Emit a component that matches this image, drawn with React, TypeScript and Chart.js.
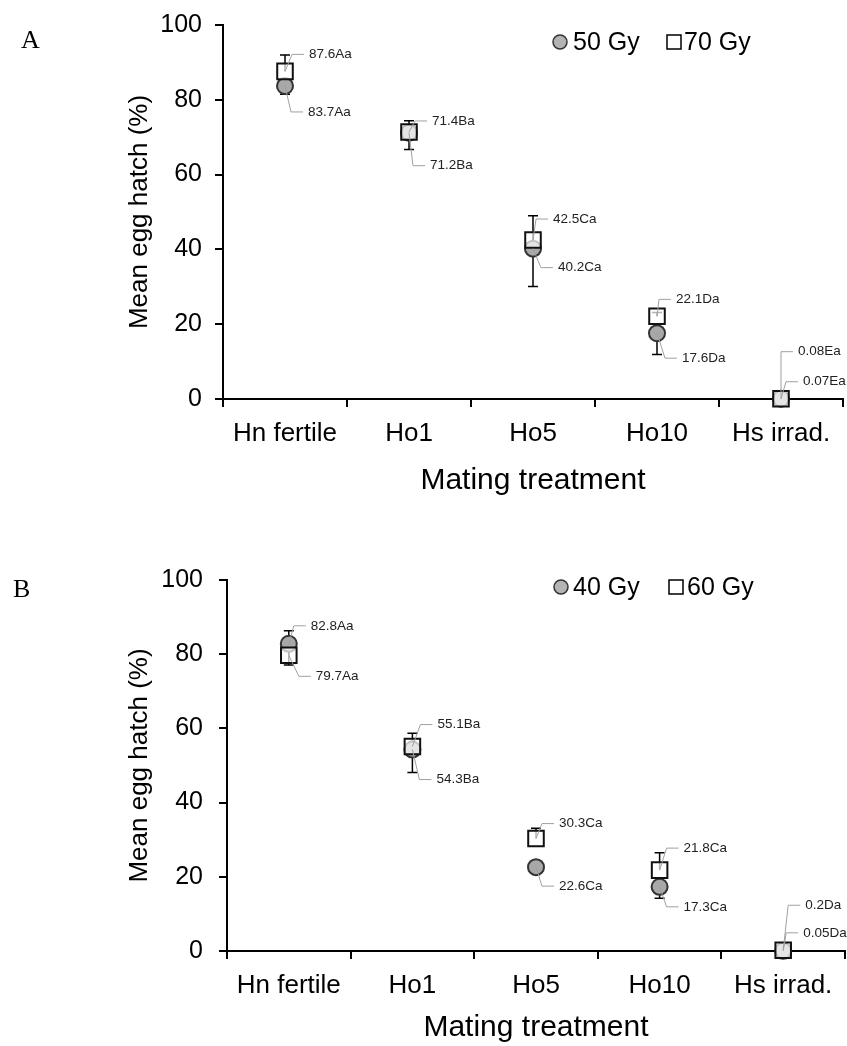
import React, { useEffect, useRef } from 'react';
import { Chart, registerables } from 'chart.js';

Chart.register(...registerables);

// ---------- data ----------
const categories = ['Hn fertile', 'Ho1', 'Ho5', 'Ho10', 'Hs irrad.'];
const yTicks = [0, 20, 40, 60, 80, 100];

// Panel A (50 Gy circle, 70 Gy square)
const a50 = [83.7, 71.2, 40.2, 17.6, 0.07];
const a70 = [87.6, 71.4, 42.5, 22.1, 0.08];
const a50ErrMinus = [2.2, 4.5, 10.1, 5.7, 0];
const a70ErrPlus = [4.4, 3.0, 6.5, 1.0, 0];
const a50Letters = ['Aa', 'Ba', 'Ca', 'Da', 'Ea'];
const a70Letters = ['Aa', 'Ba', 'Ca', 'Da', 'Ea'];

// Panel B (40 Gy circle, 60 Gy square)
const b40 = [82.8, 54.3, 22.6, 17.3, 0.05];
const b60 = [79.7, 55.1, 30.3, 21.8, 0.2];
const b40ErrMinus = [5.7, 6.2, 0.5, 3.1, 0];
const b60ErrPlus = [6.6, 3.6, 2.8, 4.7, 0];
const b40Letters = ['Aa', 'Ba', 'Ca', 'Ca', 'Da'];
const b60Letters = ['Aa', 'Ba', 'Ca', 'Ca', 'Da'];

// label placement offsets (px from marker centre to text left / middle)
const aOff50 = [[23, 26], [21, 33], [25, 19], [25, 25], [22, -17]];
const aOff70 = [[24, -17], [23, -11], [20, -21], [19, -17], [17, -47]];
const bOff40 = [[22, -18], [24, 30], [23, 19], [24, 20], [20, -18]];
const bOff60 = [[27, 21], [25, -22], [23, -15], [24, -22], [22, -45]];

const SANS = '"Liberation Sans", Arial, sans-serif';
const SERIF = '"Liberation Serif", "Times New Roman", serif';
const W = 847;
const H = 523;

type Panel = {
  letter: string;
  letterX: number;
  letterY: number;
  circle: number[];
  square: number[];
  circleErr: number[];
  squareErr: number[];
  circleLetters: string[];
  squareLetters: string[];
  circleOff: number[][];
  squareOff: number[][];
  circleName: string;
  squareName: string;
  left: number;
  right: number;
  top: number;
  bottom: number;
  yTickPad: number;
  xTickPad: number;
  xTitlePadBottom: number;
  legY: number;
  legCircleX: number;
  legCircleTextX: number;
  legSquareX: number;
  legSquareTextX: number;
};

const panels: Panel[] = [
  {
    letter: 'A', letterX: 21, letterY: 48,
    circle: a50, square: a70, circleErr: a50ErrMinus, squareErr: a70ErrPlus,
    circleLetters: a50Letters, squareLetters: a70Letters,
    circleOff: aOff50, squareOff: aOff70,
    circleName: '50 Gy', squareName: '70 Gy',
    left: 223, right: 843, top: 25, bottom: 399,
    yTickPad: 13, xTickPad: 11, xTitlePadBottom: 24,
    legY: 42, legCircleX: 560, legCircleTextX: 573, legSquareX: 674, legSquareTextX: 684,
  },
  {
    letter: 'B', letterX: 13, letterY: 74,
    circle: b40, square: b60, circleErr: b40ErrMinus, squareErr: b60ErrPlus,
    circleLetters: b40Letters, squareLetters: b60Letters,
    circleOff: bOff40, squareOff: bOff60,
    circleName: '40 Gy', squareName: '60 Gy',
    left: 227, right: 845, top: 57, bottom: 428,
    yTickPad: 16, xTickPad: 11, xTitlePadBottom: 0,
    legY: 64, legCircleX: 561, legCircleTextX: 573, legSquareX: 676, legSquareTextX: 687,
  },
];

function makePlugin(p: Panel) {
  return {
    id: 'decor' + p.letter,
    beforeDatasetsDraw(chart: any) {
      const ctx = chart.ctx;
      const xs = chart.scales.x;
      const ys = chart.scales.y;
      ctx.save();
      ctx.strokeStyle = '#000';
      ctx.lineWidth = 1.5;
      const bar = (px: number, v0: number, v1: number) => {
        const y0 = ys.getPixelForValue(v0);
        const y1 = ys.getPixelForValue(v1);
        ctx.beginPath();
        ctx.moveTo(px, y0);
        ctx.lineTo(px, y1);
        ctx.moveTo(px - 5, y1);
        ctx.lineTo(px + 5, y1);
        ctx.stroke();
      };
      categories.forEach((_, i) => {
        const px = xs.getPixelForValue(i);
        if (p.squareErr[i] > 0) bar(px, p.square[i], p.square[i] + p.squareErr[i]);
        if (p.circleErr[i] > 0) bar(px, p.circle[i], p.circle[i] - p.circleErr[i]);
      });
      ctx.restore();
    },
    afterDatasetsDraw(chart: any) {
      const ctx = chart.ctx;
      const xs = chart.scales.x;
      const ys = chart.scales.y;
      ctx.save();
      // data labels with leader lines
      const label = (px: number, v: number, txt: string, off: number[]) => {
        const py = ys.getPixelForValue(v);
        const tx = px + off[0];
        const ty = py + off[1];
        ctx.strokeStyle = '#a0a0a0';
        ctx.lineWidth = 1;
        ctx.beginPath();
        ctx.moveTo(px, py);
        ctx.lineTo(tx - 17, ty);
        ctx.lineTo(tx - 5, ty);
        ctx.stroke();
        ctx.fillStyle = '#222';
        ctx.font = '13.5px ' + SANS;
        ctx.textAlign = 'left';
        ctx.textBaseline = 'middle';
        ctx.fillText(txt, tx, ty);
      };
      categories.forEach((_, i) => {
        const px = xs.getPixelForValue(i);
        label(px, p.square[i], String(p.square[i]) + p.squareLetters[i], p.squareOff[i]);
        label(px, p.circle[i], String(p.circle[i]) + p.circleLetters[i], p.circleOff[i]);
      });
      // legend
      ctx.font = '25px ' + SANS;
      ctx.textAlign = 'left';
      ctx.textBaseline = 'middle';
      ctx.beginPath();
      ctx.arc(p.legCircleX, p.legY, 7, 0, Math.PI * 2);
      ctx.fillStyle = '#b4b4b4';
      ctx.fill();
      ctx.strokeStyle = '#333';
      ctx.lineWidth = 1.5;
      ctx.stroke();
      ctx.fillStyle = '#000';
      ctx.fillText(p.circleName, p.legCircleTextX, p.legY + 1);
      ctx.fillStyle = '#fff';
      ctx.fillRect(p.legSquareX - 7, p.legY - 7, 14, 14);
      ctx.strokeStyle = '#000';
      ctx.strokeRect(p.legSquareX - 7, p.legY - 7, 14, 14);
      ctx.fillStyle = '#000';
      ctx.fillText(p.squareName, p.legSquareTextX, p.legY + 1);
      // panel letter
      ctx.font = '26px ' + SERIF;
      ctx.textBaseline = 'alphabetic';
      ctx.fillText(p.letter, p.letterX, p.letterY);
      ctx.restore();
    },
  };
}

function PanelChart({ p, top }: { p: Panel; top: number }) {
  const ref = useRef<HTMLCanvasElement | null>(null);
  useEffect(() => {
    if (!ref.current) return;
    const chart = new Chart(ref.current, {
      type: 'line',
      data: {
        labels: categories,
        datasets: [
          {
            label: p.squareName,
            data: p.square,
            showLine: false,
            pointStyle: 'rect',
            pointRadius: 11,
            pointHoverRadius: 11,
            pointBackgroundColor: 'rgba(255,255,255,0.7)',
            pointBorderColor: '#111',
            pointBorderWidth: 2,
            order: 0,
            clip: false,
          } as any,
          {
            label: p.circleName,
            data: p.circle,
            showLine: false,
            pointStyle: 'circle',
            pointRadius: 8,
            pointHoverRadius: 8,
            pointBackgroundColor: '#a8a8a8',
            pointBorderColor: '#333',
            pointBorderWidth: 2,
            order: 1,
            clip: false,
          } as any,
        ],
      },
      options: {
        responsive: false,
        maintainAspectRatio: false,
        animation: false,
        events: [],
        layout: { autoPadding: false, padding: { left: 0, right: W - p.right, top: p.top, bottom: 0 } },
        plugins: { legend: { display: false }, tooltip: { enabled: false } },
        scales: {
          x: {
            type: 'category',
            offset: true,
            grid: { offset: true, drawOnChartArea: false, color: '#000', lineWidth: 2, tickLength: 8 },
            border: { color: '#000', width: 2 },
            ticks: { color: '#000', font: { family: SANS, size: 26 }, padding: p.xTickPad, maxRotation: 0, autoSkip: false },
            title: {
              display: true,
              text: 'Mating treatment',
              color: '#000',
              font: { family: SANS, size: 30 },
              padding: { top: 0, bottom: p.xTitlePadBottom },
            },
            afterFit: (s: any) => {
              s.height = H - p.bottom;
              s.paddingLeft = 0;
              s.paddingRight = 0;
            },
          },
          y: {
            min: 0,
            max: 100,
            afterBuildTicks: (s: any) => { s.ticks = yTicks.map((v) => ({ value: v })); },
            ticks: { color: '#000', font: { family: SANS, size: 25 }, padding: p.yTickPad },
            grid: { drawOnChartArea: false, color: '#000', lineWidth: 2, tickLength: 8 },
            border: { color: '#000', width: 2 },
            title: {
              display: true,
              text: 'Mean egg hatch (%)',
              color: '#000',
              font: { family: SANS, size: 26 },
              padding: { top: 124, bottom: 0 },
            },
            afterFit: (s: any) => {
              s.width = p.left;
              s.paddingTop = 0;
              s.paddingBottom = 0;
            },
          },
        },
      } as any,
      plugins: [makePlugin(p)],
    });
    return () => chart.destroy();
  }, [p]);
  return (
    <canvas
      ref={ref}
      width={W}
      height={H}
      style={{ position: 'absolute', left: 0, top, width: W, height: H, display: 'block' }}
    />
  );
}

export default function App() {
  return (
    <div style={{ position: 'absolute', left: 0, top: 0, width: W, height: 1046, background: '#fff' }}>
      <PanelChart p={panels[0]} top={0} />
      <PanelChart p={panels[1]} top={H} />
    </div>
  );
}
